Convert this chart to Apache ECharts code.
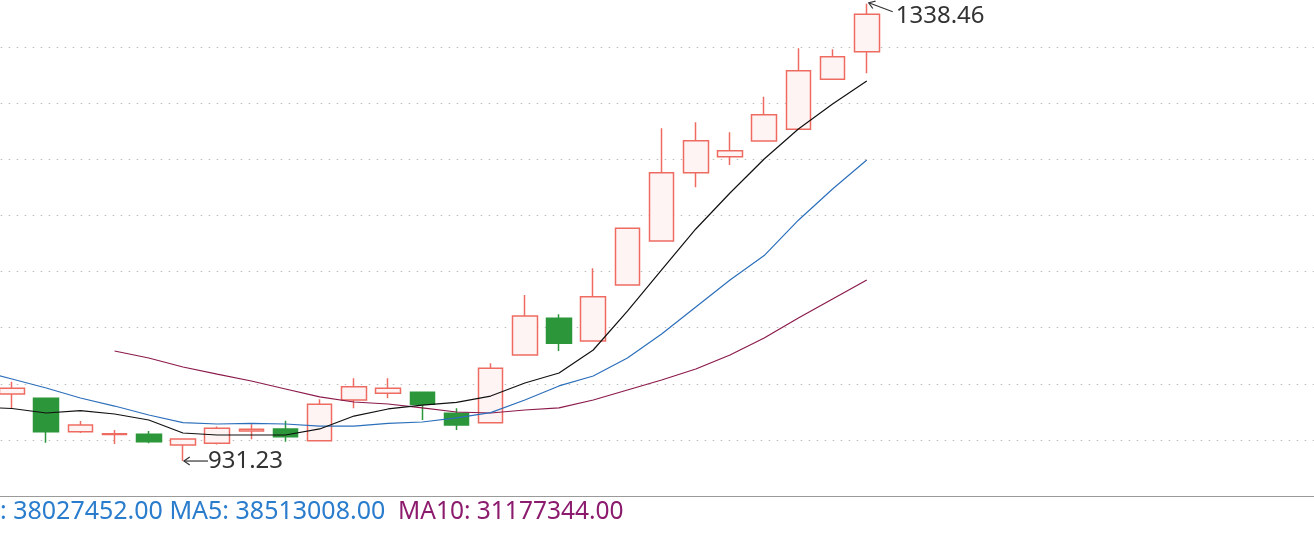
<!DOCTYPE html>
<html><head><meta charset="utf-8">
<script src="https://cdn.jsdelivr.net/npm/echarts@6/dist/echarts.min.js"></script>
<style>html,body{margin:0;padding:0;background:#fff}#c{width:1314px;height:534px}</style>
</head><body><div id="c"></div>
<script>
// ---- data ----
const openV  = [990.9, 987.1, 957.4, 954.8, 955.0, 945.5, 947.0, 958.0, 959.8, 949.3, 985.6, 991.5, 992.4, 973.7, 965.4, 1025.7, 1058.3, 1038.1, 1088.0, 1127.2, 1188.0, 1202.3, 1216.2, 1226.7, 1271.2, 1295.8];
const closeV = [996.0, 957.4, 963.3, 955.6, 948.4, 950.9, 960.4, 959.5, 952.9, 981.8, 997.4, 996.0, 981.8, 963.3, 1013.8, 1060.4, 1036.1, 1077.6, 1138.5, 1188.0, 1216.5, 1207.6, 1239.7, 1278.8, 1291.3, 1329.1];
const lowV   = [978.5, 947.6, 956.2, 946.4, 947.0, 931.23, 946.0, 950.6, 948.4, 949.3, 978.2, 987.1, 967.8, 958.9, 965.4, 1025.7, 1029.2, 1038.1, 1088.0, 1127.2, 1175.0, 1194.9, 1216.2, 1226.7, 1271.2, 1276.5];
const highV  = [1001.9, 987.1, 966.9, 958.9, 958.0, 951.5, 962.0, 963.9, 967.1, 986.2, 1004.9, 1004.9, 992.4, 978.2, 1018.3, 1079.1, 1061.9, 1102.9, 1139.0, 1227.5, 1232.9, 1224.0, 1255.7, 1298.8, 1298.0, 1338.46];
// moving averages, first value belongs to the candle just left of the visible area
const ma5  = [979.3, 978.0, 974.0, 976.2, 973.1, 967.8, 956.2, 954.4, 954.4, 954.4, 959.8, 971.3, 977.6, 981.1, 983.4, 989.1, 1000.7, 1009.6, 1030.1, 1064.8, 1101.4, 1137.9, 1169.9, 1200.2, 1226.9, 1249.2, 1269.7];
const ma10 = [1012.3, 1004.3, 996.3, 987.4, 980.2, 972.2, 965.5, 964.2, 964.7, 964.2, 962.4, 962.4, 964.7, 966.0, 969.6, 974.3, 985.6, 998.1, 1007.0, 1023.0, 1044.4, 1068.4, 1092.4, 1114.2, 1145.7, 1173.5, 1199.3];
const ma20 = [null, null, null, null, 1029.2, 1023.0, 1015.0, 1008.7, 1002.5, 995.4, 988.3, 983.8, 982.0, 978.5, 974.9, 974.0, 976.7, 978.5, 985.6, 994.5, 1003.4, 1013.2, 1025.7, 1040.8, 1058.6, 1075.5, 1092.4];
const yTicks = {min: 900, max: 1350, interval: 50};
const volLegendBlue = ': 38027452.00 MA5: 38513008.00';
const volLegendPurple = 'MA10: 31177344.00';

// ---- build ----
const LEAD = 1, TRAIL = 13;
const categories = Array.from({length: LEAD + openV.length + TRAIL}, (_, i) => String(i - LEAD));
const candleData = [];
for (let i = 0; i < LEAD; i++) candleData.push(['-', '-', '-', '-']);
openV.forEach((o, k) => candleData.push([o, closeV[k], lowV[k], highV[k]]));
const pad = a => a.map(v => v == null ? '-' : v);

const chart = echarts.init(document.getElementById('c'), null, {renderer: 'canvas'});
const lineSeries = (name, data, color) => ({
  name, type: 'line', data: pad(data), symbol: 'none', showSymbol: false, smooth: false,
  lineStyle: {width: 1.2, color}, itemStyle: {color}, z: 3, silent: true
});
chart.setOption({
  animation: false,
  backgroundColor: '#ffffff',
  grid: {left: -39.28, right: -14.32, top: -9.2, bottom: 37.9, outerBoundsMode: 'none', containLabel: false},
  xAxis: {
    type: 'category', data: categories, boundaryGap: true,
    axisLine: {show: true, lineStyle: {color: '#9a9a9a', width: 1.2}},
    axisTick: {show: false}, axisLabel: {show: false}, splitLine: {show: false}
  },
  yAxis: {
    type: 'value', min: yTicks.min, max: yTicks.max, interval: yTicks.interval,
    axisLine: {show: false}, axisTick: {show: false}, axisLabel: {show: false},
    splitLine: {show: true, lineStyle: {color: '#bcbcbc', width: 1.2, type: [1.5, 6.5]}}
  },
  series: [
    {
      type: 'candlestick', data: candleData, barWidth: 25, z: 2,
      itemStyle: {color: '#fff4f4', color0: '#2b973a', borderColor: '#ee6b61', borderColor0: '#2b973a', borderWidth: 1.5}
    },
    lineSeries('MA20', ma20, '#8b1a4b'),
    lineSeries('MA10', ma10, '#2c6fbb'),
    lineSeries('MA5', ma5, '#111111')
  ]
});

// annotations positioned through the chart's own scales
const iMax = highV.indexOf(Math.max(...highV));
const iMin = lowV.indexOf(Math.min(...lowV));
const pMax = chart.convertToPixel({gridIndex: 0}, [iMax + LEAD, highV[iMax]]);
const pMin = chart.convertToPixel({gridIndex: 0}, [iMin + LEAD, lowV[iMin]]);
const ink = '#333333';
const headArms = (tip, from, len) => {
  const dx = from[0] - tip[0], dy = from[1] - tip[1];
  const L = Math.hypot(dx, dy), ux = dx / L, uy = dy / L, a = 0.6;
  const r = (s) => [tip[0] + len * (ux * Math.cos(s) - uy * Math.sin(s)), tip[1] + len * (ux * Math.sin(s) + uy * Math.cos(s))];
  return [r(a), tip, r(-a)];
};
const maxTip = [pMax[0] + 2, pMax[1] - 1], maxFrom = [pMax[0] + 26, pMax[1] + 8];
const minTip = [pMin[0] + 1, pMin[1]], minFrom = [pMin[0] + 25, pMin[1]];
chart.setOption({
  graphic: [
    {type: 'line', shape: {x1: maxFrom[0], y1: maxFrom[1], x2: maxTip[0], y2: maxTip[1]}, style: {stroke: ink, lineWidth: 1.2}, z: 10},
    {type: 'polyline', shape: {points: headArms(maxTip, maxFrom, 7)}, style: {stroke: ink, lineWidth: 1.2, fill: null}, z: 10},
    {type: 'text', x: pMax[0] + 29, y: pMax[1] + 12, style: {text: highV[iMax].toFixed(2), fill: ink, font: '24px "Noto Sans"', verticalAlign: 'middle', align: 'left'}, z: 10},
    {type: 'line', shape: {x1: minFrom[0], y1: minFrom[1], x2: minTip[0], y2: minTip[1]}, style: {stroke: ink, lineWidth: 1.2}, z: 10},
    {type: 'polyline', shape: {points: headArms(minTip, minFrom, 7)}, style: {stroke: ink, lineWidth: 1.2, fill: null}, z: 10},
    {type: 'text', x: pMin[0] + 25, y: pMin[1], style: {text: lowV[iMin].toFixed(2), fill: ink, font: '24px "Noto Sans"', verticalAlign: 'middle', align: 'left'}, z: 10},
    {type: 'text', x: 0, y: 512, style: {text: volLegendBlue, fill: '#2a7ccd', font: '25px "Noto Sans"', verticalAlign: 'middle', align: 'left'}, z: 10},
    {type: 'text', x: 398, y: 512, style: {text: volLegendPurple, fill: '#8c1b6e', font: '24.5px "Noto Sans"', verticalAlign: 'middle', align: 'left'}, z: 10}
  ]
});
</script>
</body></html>
